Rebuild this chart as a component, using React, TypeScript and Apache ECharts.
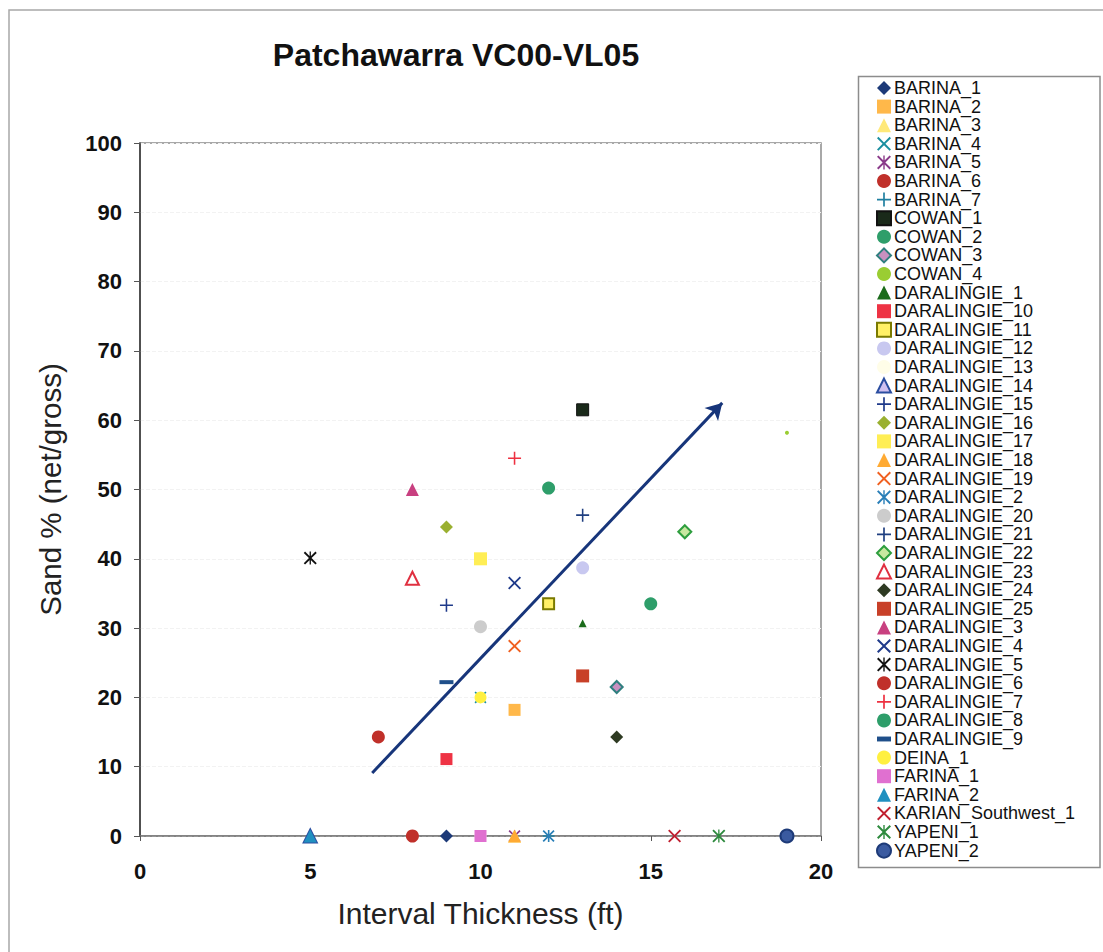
import React, { useEffect, useRef } from "react";
import * as echarts from "echarts";

// ---- data ----
const wellNames = [
  "BARINA_1", "BARINA_2", "BARINA_3", "BARINA_4", "BARINA_5", "BARINA_6", "BARINA_7",
  "COWAN_1", "COWAN_2", "COWAN_3", "COWAN_4",
  "DARALINGIE_1", "DARALINGIE_10", "DARALINGIE_11", "DARALINGIE_12", "DARALINGIE_13",
  "DARALINGIE_14", "DARALINGIE_15", "DARALINGIE_16", "DARALINGIE_17", "DARALINGIE_18",
  "DARALINGIE_19", "DARALINGIE_2", "DARALINGIE_20", "DARALINGIE_21", "DARALINGIE_22",
  "DARALINGIE_23", "DARALINGIE_24", "DARALINGIE_25", "DARALINGIE_3", "DARALINGIE_4",
  "DARALINGIE_5", "DARALINGIE_6", "DARALINGIE_7", "DARALINGIE_8", "DARALINGIE_9",
  "DEINA_1", "FARINA_1", "FARINA_2", "KARIAN_Southwest_1", "YAPENI_1", "YAPENI_2",
];
// interval thickness (ft)
const wellThickness = [
  9, 11, 11, 10, 11, 8, 12,
  13, 12, 14, 19,
  13, 9, 12, 13, 10,
  5, 9, 9, 10, 11,
  11, 12, 10, 13, 16,
  8, 14, 13, 8, 11,
  5, 7, 11, 15, 9,
  10, 10, 5, 15.7, 17, 19,
];
// sand % (net/gross)
const wellSand = [
  0, 18.2, 0, 20, 0, 0, 0,
  61.5, 50.2, 21.5, 58.2,
  30.7, 11.1, 33.5, 38.7, 0,
  0, 33.3, 44.6, 40, 0,
  27.4, 0, 30.2, 46.3, 43.9,
  37.2, 14.3, 23.1, 50, 36.5,
  40.1, 14.3, 54.5, 33.5, 22.2,
  20, 0, 0, 0, 0, 0,
];
const trendStart = [6.82, 9.1];
const trendEnd = [17.1, 62.5];
const xTicks = { min: 0, max: 20, interval: 5 };
const yTicks = { min: 0, max: 100, interval: 10 };

// ---- styles ----
const P_X = "path://M0,2L2,0L10,8L18,0L20,2L12,10L20,18L18,20L10,12L2,20L0,18L8,10Z";
const P_STAR = "path://M0,2L2,0L10,8L18,0L20,2L12,10L20,18L18,20L10,12L2,20L0,18L8,10ZM9,0L11,0L11,20L9,20Z";
const P_PLUS = "path://M8.8,0H11.2V8.8H20V11.2H11.2V20H8.8V11.2H0V8.8H8.8Z";
const P_DASH = "path://M0,0H20V7H0Z";

type St = { symbol: string; size: number | number[]; color: string; border?: string; bw?: number };
const styles: Record<string, St> = {
  BARINA_1: { symbol: "diamond", size: 13, color: "#1d3a78" },
  BARINA_2: { symbol: "rect", size: 12, color: "#ffb84a" },
  BARINA_3: { symbol: "triangle", size: 13, color: "#ffe97a" },
  BARINA_4: { symbol: P_X, size: 12, color: "#1a8fa0" },
  BARINA_5: { symbol: P_STAR, size: 12, color: "#8a3a8a" },
  BARINA_6: { symbol: "circle", size: 13, color: "#c0302a" },
  BARINA_7: { symbol: P_PLUS, size: 12, color: "#1f7fa0" },
  COWAN_1: { symbol: "rect", size: 12, color: "#1a2a1a", border: "#111", bw: 1 },
  COWAN_2: { symbol: "circle", size: 13, color: "#2e9e6a" },
  COWAN_3: { symbol: "diamond", size: 12, color: "#c890c0", border: "#2f7f7f", bw: 2 },
  COWAN_4: { symbol: "circle", size: 4, color: "#9acd32" },
  DARALINGIE_1: { symbol: "triangle", size: 8, color: "#1a6b1a" },
  DARALINGIE_10: { symbol: "rect", size: 12, color: "#ee3344" },
  DARALINGIE_11: { symbol: "rect", size: 11, color: "#fff066", border: "#7a7a00", bw: 2 },
  DARALINGIE_12: { symbol: "circle", size: 13, color: "#c8c8f0" },
  DARALINGIE_13: { symbol: "circle", size: 12, color: "#fffde8" },
  DARALINGIE_14: { symbol: "triangle", size: 13, color: "#d0c0f0", border: "#2a4da0", bw: 2 },
  DARALINGIE_15: { symbol: P_PLUS, size: 13, color: "#1f3a8a" },
  DARALINGIE_16: { symbol: "diamond", size: 13, color: "#9ab030" },
  DARALINGIE_17: { symbol: "rect", size: 13, color: "#ffee55" },
  DARALINGIE_18: { symbol: "triangle", size: 13, color: "#ffaa33" },
  DARALINGIE_19: { symbol: P_X, size: 13, color: "#f06020" },
  DARALINGIE_2: { symbol: P_STAR, size: 12, color: "#2a7fb8" },
  DARALINGIE_20: { symbol: "circle", size: 13, color: "#cccccc" },
  DARALINGIE_21: { symbol: P_PLUS, size: 13, color: "#1f3f80" },
  DARALINGIE_22: { symbol: "diamond", size: 13, color: "#c8e8a0", border: "#2e9e3e", bw: 2 },
  DARALINGIE_23: { symbol: "triangle", size: 13, color: "#ffffff", border: "#e03040", bw: 2 },
  DARALINGIE_24: { symbol: "diamond", size: 13, color: "#2e3a22" },
  DARALINGIE_25: { symbol: "rect", size: 13, color: "#c84028" },
  DARALINGIE_3: { symbol: "triangle", size: 13, color: "#c84080" },
  DARALINGIE_4: { symbol: P_X, size: 13, color: "#1f3a8a" },
  DARALINGIE_5: { symbol: P_STAR, size: 13, color: "#111111" },
  DARALINGIE_6: { symbol: "circle", size: 13, color: "#c0302a" },
  DARALINGIE_7: { symbol: P_PLUS, size: 13, color: "#ee3040" },
  DARALINGIE_8: { symbol: "circle", size: 13, color: "#2e9e6a" },
  DARALINGIE_9: { symbol: P_DASH, size: [14, 4], color: "#1f4f8a" },
  DEINA_1: { symbol: "circle", size: 12, color: "#fff040" },
  FARINA_1: { symbol: "rect", size: 12, color: "#e070d0" },
  FARINA_2: { symbol: "triangle", size: 13, color: "#2090c0" },
  KARIAN_Southwest_1: { symbol: P_X, size: 13, color: "#c02030" },
  YAPENI_1: { symbol: P_STAR, size: 13, color: "#2e8a3e" },
  YAPENI_2: { symbol: "circle", size: 13, color: "#3a5aa0", border: "#1d3a78", bw: 2 },
};

const FONT = "'Liberation Sans', Arial, sans-serif";

export default function App() {
  const ref = useRef<HTMLDivElement>(null);
  useEffect(() => {
    document.body.style.margin = "0";
    const chart = echarts.init(ref.current!, undefined, { renderer: "svg" });

    const series: any[] = wellNames.map((name, i) => {
      const s = styles[name];
      return {
        name,
        type: "scatter",
        data: [[wellThickness[i], wellSand[i]]],
        symbol: s.symbol,
        symbolSize: s.size,
        itemStyle: {
          color: s.color,
          borderColor: s.border || s.color,
          borderWidth: s.bw || 0,
          opacity: 1,
        },
        emphasis: { disabled: true },
      };
    });
    series.push({
      name: "trend",
      type: "line",
      data: [],
      markLine: {
        silent: true,
        symbol: ["none", "arrow"],
        symbolSize: [14, 16],
        label: { show: false },
        lineStyle: { color: "#17357a", width: 3, type: "solid" },
        data: [[{ coord: trendStart }, { coord: trendEnd }]],
      },
    });

    chart.setOption({
      animation: false,
      backgroundColor: "#ffffff",
      grid: {
        left: 140, top: 143, width: 681, height: 693,
        show: true, borderColor: "#8c8c8c", borderWidth: 1.5,
      },
      xAxis: {
        type: "value",
        min: xTicks.min, max: xTicks.max, interval: xTicks.interval,
        name: "Interval Thickness (ft)",
        nameLocation: "middle",
        nameGap: 62,
        nameTextStyle: { fontFamily: FONT, fontSize: 30, color: "#222" },
        axisLine: { show: true, onZero: false, lineStyle: { color: "#777", width: 1.5 } },
        axisTick: { show: true, length: 5, lineStyle: { color: "#555" } },
        axisLabel: { fontFamily: FONT, fontSize: 22, fontWeight: "bold", color: "#111", margin: 24 },
        splitLine: { show: false },
      },
      yAxis: {
        type: "value",
        min: yTicks.min, max: yTicks.max, interval: yTicks.interval,
        name: "Sand % (net/gross)",
        nameLocation: "middle",
        nameGap: 75,
        nameRotate: 90,
        nameTextStyle: { fontFamily: FONT, fontSize: 29.5, color: "#222" },
        axisLine: { show: true, onZero: false, lineStyle: { color: "#333", width: 1.5 } },
        axisTick: { show: true, length: 6, lineStyle: { color: "#555" } },
        axisLabel: { fontFamily: FONT, fontSize: 22, fontWeight: "bold", color: "#111", margin: 18 },
        splitLine: { show: true, lineStyle: { color: "#f2f2f2", width: 1, type: "dashed" } },
      },
      legend: {
        orient: "vertical",
        left: 876,
        top: 79,
        height: 860,
        padding: 0,
        itemWidth: 14,
        itemHeight: 14,
        itemGap: 0.6,
        data: wellNames,
        selectedMode: false,
        textStyle: { fontFamily: FONT, fontSize: 18, color: "#111", padding: [0, 0, 0, -2] },
      },
      graphic: [
        {
          type: "rect",
          z: -10,
          shape: { x: 9, y: 10, width: 1110, height: 960 },
          style: { fill: "none", stroke: "#a8a8a8", lineWidth: 1.5 },
          silent: true,
        },
        {
          type: "rect",
          z: -5,
          shape: { x: 858.5, y: 76.5, width: 241.5, height: 791 },
          style: { fill: "#ffffff", stroke: "#8c8c8c", lineWidth: 1.5 },
          silent: true,
        },
        {
          type: "text",
          x: 456,
          y: 55,
          style: {
            text: "Patchawarra VC00-VL05",
            font: "bold 32px " + FONT,
            fill: "#111",
            textAlign: "center",
            textVerticalAlign: "middle",
          },
        },
      ],
      series,
    });
    return () => chart.dispose();
  }, []);
  return <div ref={ref} style={{ width: 1103, height: 952 }} />;
}
